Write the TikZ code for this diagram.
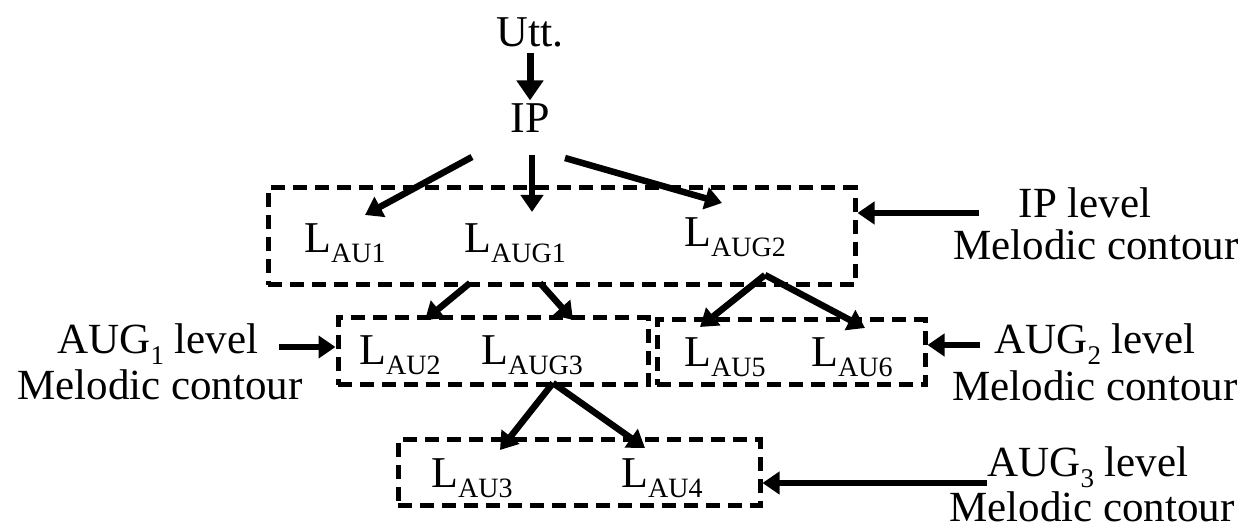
\documentclass[tikz,border=0pt]{standalone}
\usepackage{fontspec}
\setmainfont{Liberation Serif}
\usetikzlibrary{arrows.meta}
\newcommand{\Lsub}[1]{L\raisebox{-0.22em}{\fontsize{28}{28}\selectfont #1}}
\newcommand{\nsub}[1]{\raisebox{-0.25em}{\fontsize{27}{27}\selectfont #1}}
\tikzset{
  txt/.style={inner sep=0pt, font=\fontsize{44}{48}\selectfont},
  lbl/.style={inner sep=0pt, font=\fontsize{43}{47}\selectfont, align=center},
  dbox/.style={draw, line width=5pt, dash pattern=on 14pt off 8pt, inner sep=0pt},
  arr/.style={line width=6.5pt, -{Triangle[width=22pt,length=17pt]}},
  bigarr/.style={line width=7pt, -{Triangle[width=26pt,length=20pt]}}
}
\begin{document}
\begin{tikzpicture}[x=1pt,y=-1pt]
\useasboundingbox (0,0) rectangle (1254,529);
% texts
\node[txt] (utt) at (530,32) {Utt.};
\node[txt] (ip) at (530,118) {IP};
\node[txt] (lau1) at (345,243) {\Lsub{AU1}};
\node[txt] (laug1) at (515,243) {\Lsub{AUG1}};
\node[txt] (laug2) at (735,237) {\Lsub{AUG2}};
\node[txt] (lau2) at (400,355) {\Lsub{AU2}};
\node[txt] (laug3) at (532,355) {\Lsub{AUG3}};
\node[txt] (lau5) at (725,357) {\Lsub{AU5}};
\node[txt] (lau6) at (852,357) {\Lsub{AU6}};
\node[txt] (lau3) at (472,478) {\Lsub{AU3}};
\node[txt] (lau4) at (662,478) {\Lsub{AU4}};
% boxes
\node[dbox, minimum width=587pt, minimum height=97pt] (box1) at (561.5,236.5) {};
\node[dbox, minimum width=310pt, minimum height=67pt] (box2) at (493,351.5) {};
\node[dbox, minimum width=268pt, minimum height=65pt] (box3) at (791,352.5) {};
\node[dbox, minimum width=362pt, minimum height=65pt] (box4) at (579,472.5) {};
% side labels
\node[lbl] (l1a) at (1085,203) {IP level};
\node[lbl] (l1b) at (1096,245) {Melodic contour};
\node[lbl] (l2a) at (158,344) {AUG\nsub{1} level};
\node[lbl] (l2b) at (160,385) {Melodic contour};
\node[lbl] (l3a) at (1095,344) {AUG\nsub{2} level};
\node[lbl] (l3b) at (1095,386) {Melodic contour};
\node[lbl] (l4a) at (1088,467) {AUG\nsub{3} level};
\node[lbl] (l4b) at (1092,507) {Melodic contour};
% arrow tails
\coordinate (t1) at ([xshift=-40pt,yshift=-10pt]l1a.west);
\coordinate (t2) at ([xshift=20pt,yshift=-3pt]l2a.east);
\coordinate (t3) at ([xshift=-14pt,yshift=-1pt]l3a.west);
\coordinate (t4) at ([yshift=-16pt]l4a.west);
% arrows
\draw[bigarr] ([yshift=-6pt]utt.south) -- ([yshift=3pt]ip.north);
\draw[arr] ([shift={(-58,39)}]ip.center) -- ([shift={(20,-28)}]lau1.center);
\draw[arr] ([shift={(2,37)}]ip.center) -- ([shift={(17,-31)}]laug1.center);
\draw[arr] ([shift={(35,40)}]ip.center) -- ([shift={(-13,-34)}]laug2.center);
\draw[arr] ([shift={(-45,40)}]laug1.center) -- ([shift={(25,-35)}]lau2.center);
\draw[arr] ([shift={(25,40)}]laug1.center) -- ([shift={(41,-35)}]laug3.center);
\draw[arr] ([shift={(30,38)}]laug2.center) -- ([shift={(-25,-30)}]lau5.center);
\draw[arr] ([shift={(30,38)}]laug2.center) -- ([shift={(13,-29)}]lau6.center);
\draw[arr] ([shift={(21,28)}]laug3.center) -- ([shift={(28,-28)}]lau3.center);
\draw[arr] ([shift={(21,28)}]laug3.center) -- ([shift={(-17,-30)}]lau4.center);
\draw[arr] (t1) -- (box1.east |- t1);
\draw[arr] (t2) -- (box2.west |- t2);
\draw[arr] (t3) -- (box3.east |- t3);
\draw[arr] (t4) -- (box4.east |- t4);
\end{tikzpicture}
\end{document}
